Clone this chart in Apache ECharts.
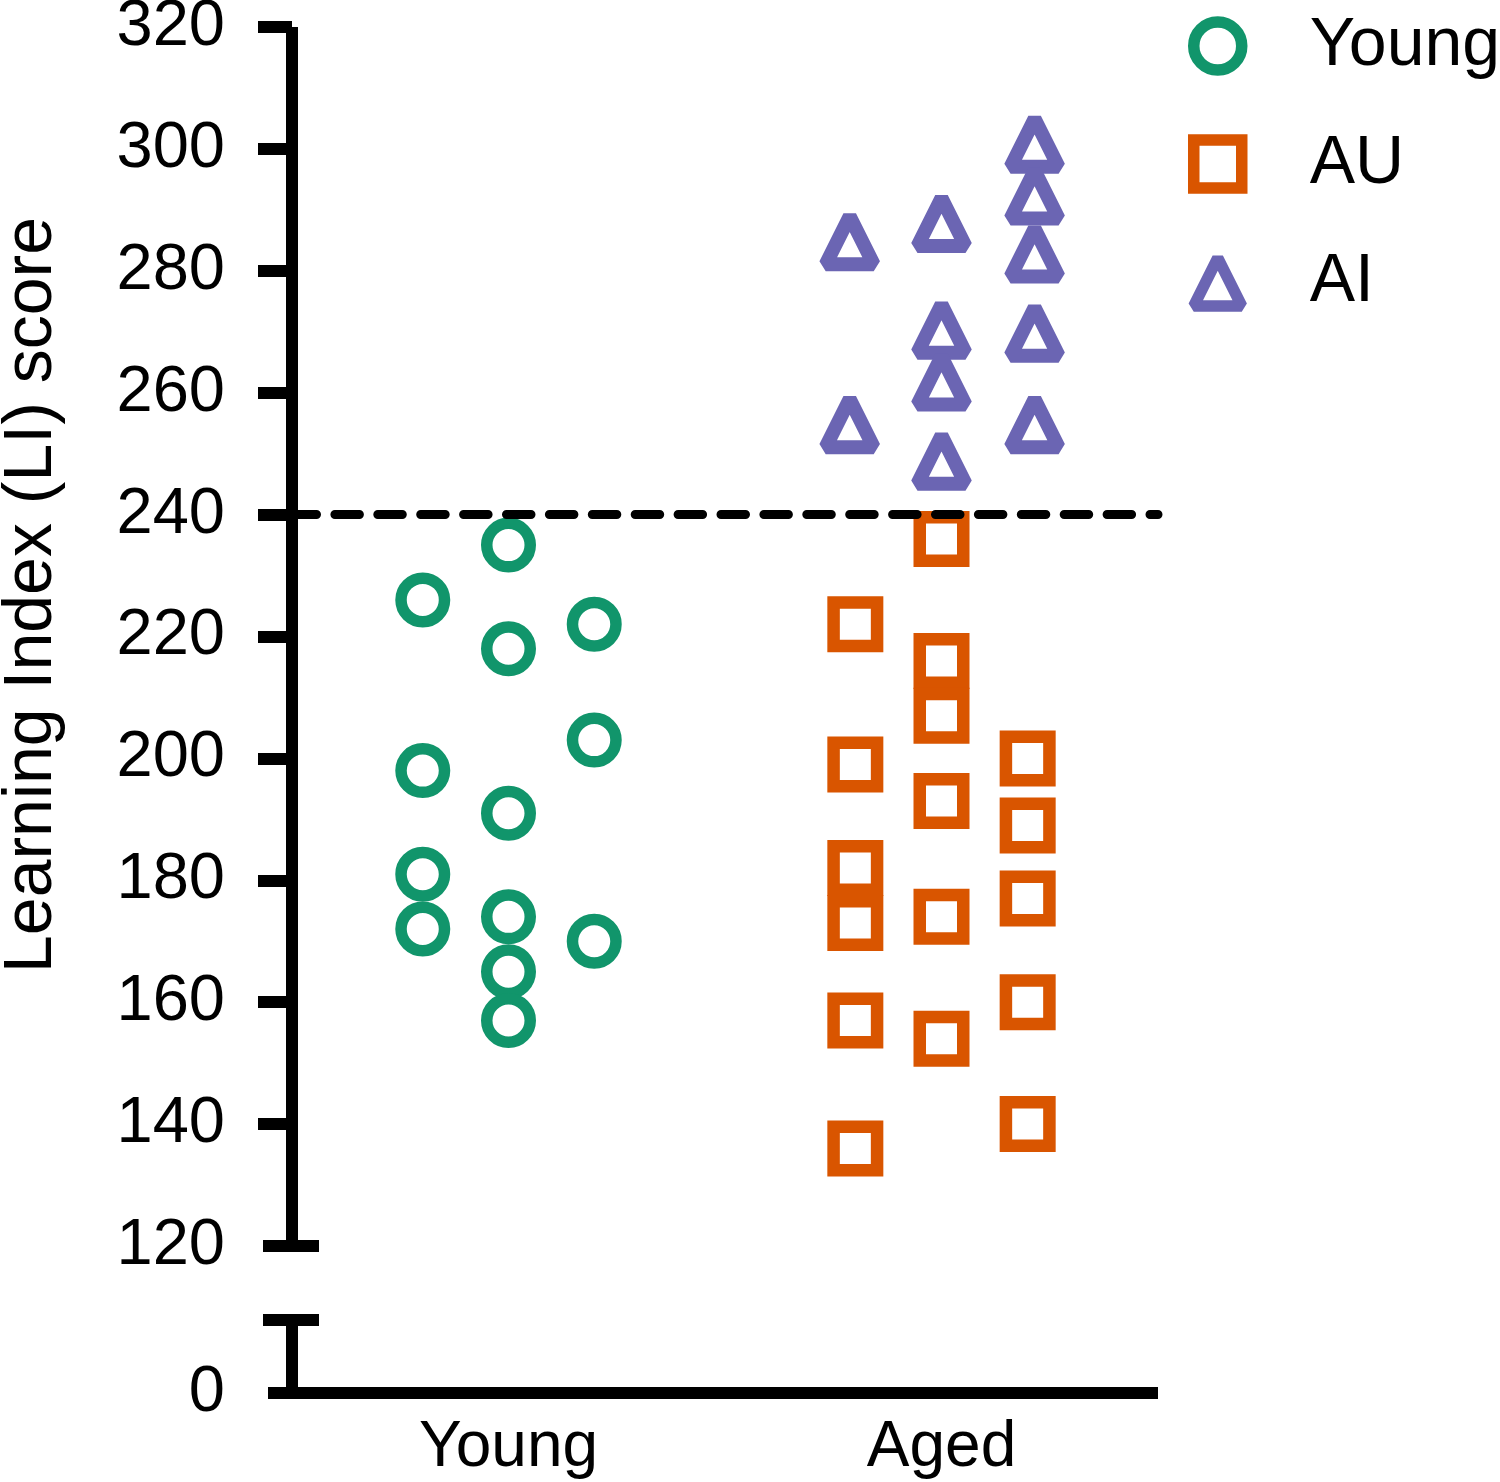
<!DOCTYPE html>
<html><head><meta charset="utf-8">
<script src="https://cdn.jsdelivr.net/npm/echarts@6/dist/echarts.min.js"></script>
<style>html,body{margin:0;padding:0;background:#fff}#c{width:1500px;height:1482px}</style>
</head><body><div id="c"></div>
<script>
// ---------- data ----------
const categories = ['Young', 'Aged'];
const seriesNames = ['Young', 'AU', 'AI'];
// values per jitter column (left, middle, right)
const youngCols = [[226, 198, 181, 172], [235, 218, 191, 174, 165, 157], [222, 203, 170]];
const auCols = [[222, 199, 182, 173, 157, 136], [236, 216, 207, 193, 174, 154], [200, 189, 177, 160, 140]];
const aiCols = [[285, 255], [288, 270.5, 262, 249], [301, 292.5, 283, 270, 255]];
const youngJitter = [-0.198, 0, 0.198];
const auJitter = [-0.199, 0, 0.199];
const aiJitter = [-0.212, 0, 0.215];
const yTicks = [120, 140, 160, 180, 200, 220, 240, 260, 280, 300, 320];
const lowTicks = [0, 10];
const threshold = 240;

// ---------- helpers ----------
function buildPoints(cols, catIndex, jitter) {
  const out = [];
  cols.forEach((vals, ci) => vals.forEach(v => out.push([catIndex + 1 + jitter[ci], v])));
  return out;
}
const FONT = "'Liberation Sans', Arial, Helvetica, sans-serif";
const GREEN = '#11956b', ORANGE = '#d95500', PURPLE = '#6b65b3';
const AXW = 12;
const pxPerUnit = 433;
const xMinA = 0.5, xMax = 2.5;
const xMinB = xMinA - 24 / pxPerUnit;
const axisLineStyle = {color: '#000', width: AXW, cap: 'butt'};

const chart = echarts.init(document.getElementById('c'), null, {renderer: 'canvas'});
const option = {
  backgroundColor: '#fff',
  animation: false,
  textStyle: {fontFamily: FONT, color: '#000'},
  grid: [
    {left: 292, top: 27, width: 866, height: 1219, outerBoundsMode: 'none', containLabel: false},
    {left: 268, top: 1320, width: 890, height: 73, outerBoundsMode: 'none', containLabel: false}
  ],
  xAxis: [
    {gridIndex: 0, type: 'value', min: xMinA, max: xMax, show: false},
    {gridIndex: 1, type: 'value', min: xMinB, max: xMax,
     axisLine: {show: true, onZero: false, lineStyle: axisLineStyle},
     axisTick: {show: false}, splitLine: {show: false},
     axisLabel: {show: true, customValues: [1, 2], margin: 23,
       formatter: v => categories[Math.round(v) - 1] || '',
       fontSize: 64, color: '#000', fontFamily: FONT}}
  ],
  yAxis: [
    {gridIndex: 0, type: 'value', min: yTicks[0], max: yTicks[yTicks.length - 1], interval: 20,
     position: 'left', offset: 0,
     name: 'Learning Index (LI) score', nameLocation: 'middle', nameGap: 226, nameRotate: 90,
     nameTextStyle: {fontSize: 68, color: '#000', fontFamily: FONT, padding: [0, 0, 0, 83]},
     axisLine: {show: true, onZero: false, lineStyle: axisLineStyle},
     axisTick: {show: true, inside: false, length: 34, customValues: yTicks.slice(1),
       lineStyle: axisLineStyle},
     splitLine: {show: false},
     axisLabel: {show: true, margin: 67, fontSize: 65, color: '#000', fontFamily: FONT}},
    {gridIndex: 0, type: 'value', min: yTicks[0], max: yTicks[yTicks.length - 1],
     position: 'left', offset: 29,
     axisLine: {show: false}, axisLabel: {show: false}, splitLine: {show: false},
     axisTick: {show: true, inside: true, length: 56, customValues: [yTicks[0]],
       lineStyle: axisLineStyle}},
    {gridIndex: 1, type: 'value', min: lowTicks[0], max: lowTicks[1],
     position: 'left', offset: -24,
     axisLine: {show: true, onZero: false, lineStyle: axisLineStyle},
     axisTick: {show: false}, splitLine: {show: false},
     axisLabel: {show: true, customValues: [lowTicks[0]], margin: 67, fontSize: 65, color: '#000', fontFamily: FONT}},
    {gridIndex: 1, type: 'value', min: lowTicks[0], max: lowTicks[1],
     position: 'left', offset: 5,
     axisLine: {show: false}, axisLabel: {show: false}, splitLine: {show: false},
     axisTick: {show: true, inside: true, length: 56, customValues: [lowTicks[1]],
       lineStyle: axisLineStyle}}
  ],
  legend: {
    orient: 'vertical', left: 1188, top: 12, padding: 0, itemGap: 50,
    itemWidth: 48, itemHeight: 48, symbolKeepAspect: true,
    textStyle: {fontSize: 68, color: '#000', fontFamily: FONT, padding: [0, 0, 0, 63]},
    data: [
      {name: seriesNames[0], icon: 'circle', itemStyle: {color: 'rgba(255,255,255,0)', borderColor: GREEN, borderWidth: 11.5}},
      {name: seriesNames[1], icon: 'rect', itemStyle: {color: 'rgba(255,255,255,0)', borderColor: ORANGE, borderWidth: 11.5}},
      {name: seriesNames[2], icon: 'triangle', itemStyle: {color: 'rgba(255,255,255,0)', borderColor: PURPLE, borderWidth: 11.5, borderJoin: 'bevel'}}
    ]
  },
  series: [
    {name: seriesNames[0], type: 'scatter', xAxisIndex: 0, yAxisIndex: 0,
     symbol: 'circle', symbolSize: 43.5,
     itemStyle: {color: 'rgba(255,255,255,0)', borderColor: GREEN, borderWidth: 11.5, opacity: 1},
     emphasis: {disabled: true},
     data: buildPoints(youngCols, 0, youngJitter),
     markLine: {silent: true, symbol: ['none', 'none'], label: {show: false}, z: 10,
       lineStyle: {color: '#000', width: 9, type: [24.5, 18.4], cap: 'round'},
       emphasis: {disabled: true},
       data: [{yAxis: threshold}]}},
    {name: seriesNames[1], type: 'scatter', xAxisIndex: 0, yAxisIndex: 0,
     symbol: 'rect', symbolSize: 43.5,
     itemStyle: {color: 'rgba(255,255,255,0)', borderColor: ORANGE, borderWidth: 12.5, opacity: 1},
     emphasis: {disabled: true},
     data: buildPoints(auCols, 1, auJitter)},
    {name: seriesNames[2], type: 'scatter', xAxisIndex: 0, yAxisIndex: 0,
     symbol: 'triangle', symbolSize: [48, 48],
     itemStyle: {color: 'rgba(255,255,255,0)', borderColor: PURPLE, borderWidth: 14, borderJoin: 'bevel', opacity: 1},
     emphasis: {disabled: true},
     data: buildPoints(aiCols, 1, aiJitter)}
  ]
};
chart.setOption(option);
</script></body></html>
